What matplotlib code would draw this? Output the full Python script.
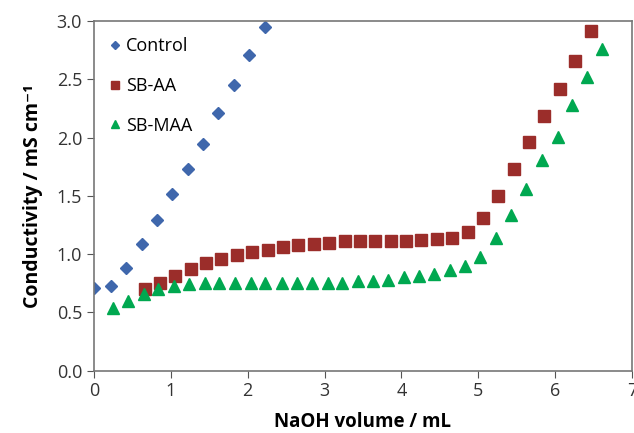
import matplotlib.pyplot as plt

plt.rcParams['font.family'] = ['Open Sans', 'DejaVu Sans']

# Control
x_ctrl = [0.0, 0.22, 0.42, 0.62, 0.82, 1.02, 1.22, 1.42, 1.62, 1.82, 2.02, 2.22]
y_ctrl = [0.71, 0.73, 0.88, 1.09, 1.29, 1.52, 1.73, 1.95, 2.21, 2.45, 2.71, 2.95]

# SB-AA
x_aa = [0.66 + 0.2 * i for i in range(30)]
y_aa = [0.70, 0.75, 0.81, 0.87, 0.92, 0.96, 0.99, 1.02, 1.04, 1.06,
        1.08, 1.09, 1.10, 1.11, 1.11, 1.11, 1.11, 1.11, 1.12, 1.13,
        1.14, 1.19, 1.31, 1.50, 1.73, 1.96, 2.19, 2.42, 2.66, 2.92]

# SB-MAA
x_maa = [0.25, 0.45, 0.65, 0.84, 1.04, 1.24, 1.45, 1.63, 1.83, 2.04, 2.23,
         2.45, 2.64, 2.84, 3.04, 3.23, 3.43, 3.63, 3.83, 4.03, 4.23, 4.43,
         4.63, 4.83, 5.02, 5.23, 5.43, 5.62, 5.83, 6.03, 6.22, 6.42, 6.61]
y_maa = [0.54, 0.60, 0.66, 0.70, 0.73, 0.74, 0.75, 0.755, 0.755, 0.755, 0.755,
         0.755, 0.755, 0.755, 0.755, 0.755, 0.77, 0.77, 0.78, 0.80, 0.81, 0.83,
         0.86, 0.90, 0.98, 1.14, 1.34, 1.56, 1.81, 2.01, 2.28, 2.52, 2.76]

fig = plt.figure(figsize=(6.34, 4.33), dpi=100)
ax = fig.add_axes([0.148, 0.144, 0.849, 0.807])

ax.plot(x_ctrl, y_ctrl, 'D', color='#3F67AC', ms=6.5, ls='none', label='Control')
ax.plot(x_aa, y_aa, 's', color='#9B2D2A', ms=8, ls='none', label='SB-AA')
ax.plot(x_maa, y_maa, '^', color='#00A850', ms=8.5, ls='none', label='SB-MAA')

ax.set_xlim(0, 7)
ax.set_ylim(0, 3.0)
ax.set_xticks(range(0, 8))
ax.set_yticks([0.0, 0.5, 1.0, 1.5, 2.0, 2.5, 3.0])
ax.set_yticklabels(['0.0', '0.5', '1.0', '1.5', '2.0', '2.5', '3.0'])
ax.tick_params(labelsize=13, color='#555555', length=5, direction='out', labelcolor='#333333')
for s in ax.spines.values():
    s.set_color('#777777')
    s.set_linewidth(1.2)

ax.set_xlabel('NaOH volume / mL', fontsize=13.5, fontweight='bold', labelpad=8)
ax.set_ylabel('Conductivity / mS cm⁻¹', fontsize=14, fontweight='bold', labelpad=10)

leg = ax.legend(loc='upper left', bbox_to_anchor=(0.0, 1.0), frameon=False,
                fontsize=13, handletextpad=0.3, handlelength=0.6,
                labelspacing=1.2, borderaxespad=0.5, markerscale=0.7)

fig.savefig('out.png', dpi=100)
